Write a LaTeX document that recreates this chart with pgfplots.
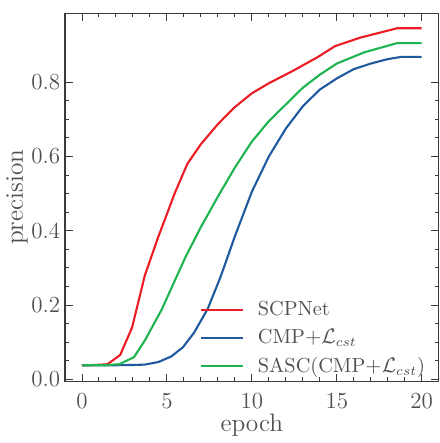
\documentclass[border=0pt]{standalone}
\usepackage{pgfplots}
\pgfplotsset{compat=1.18}
\definecolor{cRed}{HTML}{EC1C24}
\definecolor{cBlue}{HTML}{1F5A9E}
\definecolor{cGreen}{HTML}{1FB450}
\definecolor{cFrame}{HTML}{3A3A3A}
\definecolor{cText}{HTML}{505050}

\begin{document}
\begin{tikzpicture}
    \begin{axis}[
        scale only axis,
        width=195pt, height=192pt,
        xmin=-1, xmax=21,
        ymin=-0.005, ymax=0.985,
        xtick={0,5,10,15,20},
        ytick={0,0.2,0.4,0.6,0.8},
        yticklabel style={/pgf/number format/fixed, /pgf/number format/precision=1, /pgf/number format/fixed zerofill, xshift=1pt},
        xticklabel style={yshift=-3pt},
        minor x tick num=4,
        minor y tick num=3,
        tick align=inside,
        major tick length=4pt,
        minor tick length=2pt,
        axis line style={cFrame, line width=0.8pt},
        every tick/.style={cFrame, line width=0.5pt},
        ticklabel style={text=cText, font=\large},
        xlabel={\fontsize{13.2}{15}\selectfont epoch},
        ylabel={\fontsize{13.2}{15}\selectfont precision},
        label style={text=cText},
        xlabel style={yshift=4pt},
        ylabel style={yshift=-5pt},
        legend style={
            draw=none, fill=none,
            at={(0.99,-0.005)}, anchor=south east,
            font=\fontsize{10.6}{12.5}\selectfont, text=cText,
            row sep=1.5pt,
        },
        legend cell align=left,
        legend image code/.code={\draw[#1, line width=1.3pt] (0pt,0pt) -- (22pt,0pt); \path (27pt,0pt);},
        every axis plot/.append style={line width=1.1pt, no markers},
    ]
        % SCPNet
        \addplot[cRed] coordinates {
            (0,0.038) (0.8,0.039) (1.5,0.041) (2.25,0.066) (2.95,0.14) (3.7,0.28)
            (4.5,0.385) (5.0,0.445) (5.45,0.50) (6.2,0.580) (7.0,0.633) (8.0,0.687)
            (9.0,0.733) (10.0,0.770) (11.0,0.797) (12.4,0.83) (13.9,0.868)
            (14.9,0.897) (16.4,0.92) (18.55,0.945) (20,0.945)
        };
        \addlegendentry{SCPNet}

        % CMP + L_cst
        \addplot[cBlue] coordinates {
            (0,0.038) (1.5,0.038) (3.0,0.039) (3.7,0.040) (4.5,0.047) (5.26,0.062)
            (5.95,0.087) (6.6,0.126) (7.4,0.19) (8.15,0.275) (9.0,0.385)
            (10.0,0.505) (11.0,0.600) (12.0,0.675) (13.0,0.735) (14.0,0.780)
            (15.0,0.810) (16.0,0.835) (17.0,0.850) (18.0,0.862) (18.8,0.868) (20,0.868)
        };
        \addlegendentry{CMP$+\mathcal{L}_{cst}$}

        % SASC(CMP + L_cst)
        \addplot[cGreen] coordinates {
            (0,0.038) (1.5,0.039) (2.2,0.041) (3.06,0.06) (3.7,0.105) (4.68,0.187)
            (6.1,0.33) (7.0,0.41) (8.0,0.492) (9.0,0.570) (10.0,0.640)
            (11.0,0.695) (12.0,0.740) (13.0,0.785) (14.0,0.820) (15.0,0.850)
            (16.6,0.88) (18.55,0.905) (20,0.905)
        };
        \addlegendentry{SASC(CMP$+\mathcal{L}_{cst}$)}
    \end{axis}
    \path ([yshift=7pt]current axis.north) -- ([yshift=7pt]current axis.north);
\end{tikzpicture}
\end{document}
